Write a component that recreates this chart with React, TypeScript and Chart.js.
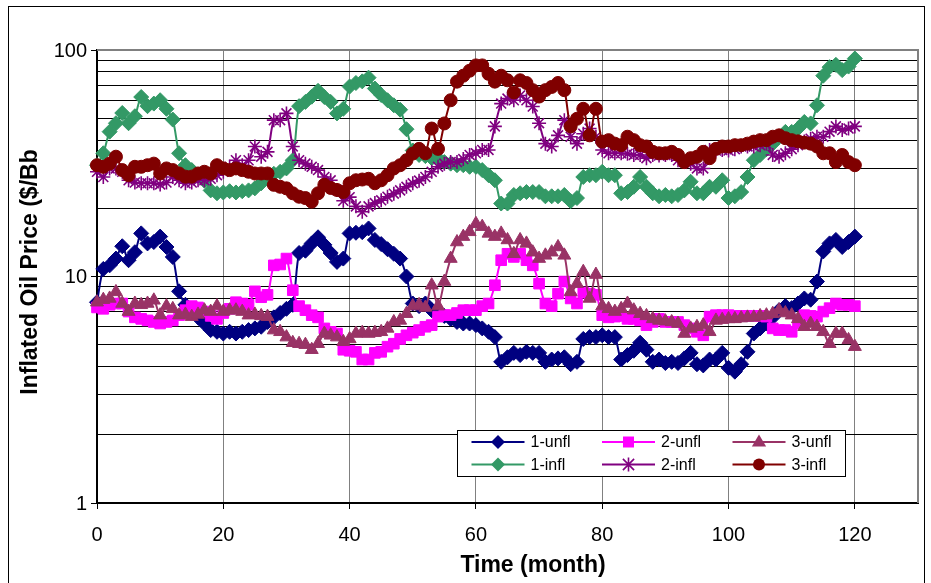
import React, { useEffect, useRef } from "react";
import { Chart, registerables } from "chart.js";
Chart.register(...registerables);

const FONT = '"Liberation Sans", Arial, Helvetica, sans-serif';

const seriesNames = ["1-unfl", "2-unfl", "3-unfl", "1-infl", "2-infl", "3-infl"];
const seriesColors = ["#000080", "#FF00FF", "#993366", "#339966", "#800080", "#800000"];
const seriesMarkers = ["rectRot", "rect", "triangle", "rectRot", "star", "circle"];
const xTickValues = [0, 20, 40, 60, 80, 100, 120];
const yLabelValues = [1, 10, 100];
const yGridValues = [1, 2, 3, 4, 5, 6, 7, 8, 9, 10, 20, 30, 40, 50, 60, 70, 80, 90, 100];
const xTitle = "Time (month)";
const yTitle = "Inflated Oil Price ($/Bb";

const unfl1 = [
  7.7, 10.8, 11.2, 12.0, 13.6, 11.8, 12.8, 15.5, 14.0, 14.2, 15.0, 13.5, 12.2, 8.6, 7.5, 7.0, 6.6, 6.2, 5.8, 5.7,
  5.6, 5.7, 5.6, 5.7, 5.8, 5.9, 6.0, 6.3, 6.6, 6.9, 7.2, 7.5, 12.7, 13.0, 14.0, 14.9, 13.8, 12.7, 11.6, 12.0,
  15.5, 15.6, 15.7, 16.3, 14.5, 13.9, 13.2, 12.6, 12.0, 10.0, 7.6, 7.4, 7.6, 7.1, 6.9, 6.7, 6.5, 6.3, 6.2, 6.2,
  6.1, 5.9, 5.7, 5.4, 4.2, 4.4, 4.6, 4.5, 4.65, 4.6, 4.6, 4.2, 4.3, 4.35, 4.4, 4.1, 4.2, 5.3, 5.4, 5.4,
  5.5, 5.4, 5.4, 4.3, 4.5, 4.7, 5.1, 4.75, 4.2, 4.3, 4.15, 4.2, 4.15, 4.35, 4.6, 4.1, 4.05, 4.3, 4.3, 4.6,
  3.95, 3.8, 4.1, 4.65, 5.6, 5.9, 6.2, 6.6, 7.1, 7.4, 7.25, 7.6, 8.0, 7.9, 9.5, 12.9, 14.0, 14.5, 13.5, 14.2,
  15.0,
];
const unfl2 = [
  7.3, 7.2, 7.5, 7.6, 7.6, 7.0, 6.6, 6.5, 6.4, 6.3, 6.2, 6.3, 6.4, 6.75, 7.1, 7.4, 7.3, 7.0, 6.7, 6.5,
  6.9, 7.2, 7.7, 7.6, 7.5, 8.6, 8.1, 8.3, 11.2, 11.3, 12.0, 8.7, 7.4, 7.1, 6.75, 6.6, 5.9, 5.7, 5.6, 4.75,
  4.7, 4.65, 4.3, 4.3, 4.6, 4.65, 4.9, 5.05, 5.3, 5.5, 5.65, 5.8, 6.0, 6.1, 6.65, 6.75, 6.75, 6.9, 7.1, 7.1,
  7.1, 7.4, 7.6, 9.15, 11.8, 12.6, 12.2, 12.6, 11.8, 11.2, 9.3, 7.6, 7.4, 8.4, 9.5, 8.0, 7.6, 8.5, 8.4, 8.3,
  6.75, 6.6, 6.65, 6.7, 6.5, 6.5, 6.4, 6.1, 6.3, 6.5, 6.3, 6.3, 6.3, 6.1, 5.9, 5.7, 5.5, 6.65, 6.75, 6.75,
  6.75, 6.7, 6.7, 6.7, 6.7, 6.7, 6.65, 5.9, 5.8, 5.8, 5.7, 6.2, 6.75, 6.7, 6.65, 7.0, 7.25, 7.6, 7.5, 7.5,
  7.4,
];
const unfl3 = [
  7.7, 7.9, 8.0, 8.55, 7.6, 7.0, 7.6, 7.5, 7.6, 7.85, 6.75, 7.4, 7.2, 6.75, 6.8, 6.65, 6.8, 7.1, 7.0, 7.4,
  7.0, 7.1, 7.1, 7.0, 6.75, 6.8, 6.7, 6.65, 5.8, 5.7, 5.4, 5.1, 5.05, 5.0, 4.75, 5.05, 5.6, 5.5, 5.4, 5.15,
  5.3, 5.6, 5.65, 5.6, 5.65, 5.7, 5.9, 6.3, 6.4, 6.85, 7.4, 7.5, 7.3, 9.15, 7.4, 9.5, 12.0, 14.2, 15.0, 15.75,
  17.1, 16.6, 15.5, 15.0, 15.5, 14.5, 12.6, 14.5, 14.0, 12.8, 12.0, 12.4, 12.8, 13.5, 12.4, 8.55, 9.3, 10.5, 8.0, 10.2,
  7.4, 7.2, 7.0, 7.2, 7.6, 7.1, 6.85, 6.7, 6.5, 6.4, 6.35, 6.3, 6.2, 5.6, 5.9, 6.0, 6.1, 5.7, 6.4, 6.45,
  6.5, 6.5, 6.55, 6.6, 6.6, 6.7, 6.75, 6.85, 7.1, 6.9, 6.75, 6.5, 6.0, 6.2, 6.0, 5.7, 5.05, 5.6, 5.6, 5.25,
  4.9,
];
const infl1 = [
  31, 35, 43.6, 47.5, 52.7, 47.5, 51, 62, 56.5, 58, 60, 55, 49.3, 35, 31, 29.5, 28, 26.5, 24, 23.3,
  23.5, 23.8, 23.5, 23.8, 24, 24.5, 25.8, 27, 28.4, 29, 30, 32.6, 56.5, 59, 62.2, 66, 62, 59, 52.5, 55,
  69, 71.5, 72.7, 75.5, 67.6, 63.3, 60, 57, 54.5, 44.7, 36, 34.4, 34, 33.3, 33.3, 32, 31.5, 31, 31, 30.5,
  30.5, 29.5, 28, 26.6, 21, 21, 22.9, 23.3, 23.6, 23.6, 23.6, 22.6, 22.6, 22.6, 22.9, 21.5, 22.2, 27.5, 28, 28,
  29, 28, 28, 23.3, 23.6, 24.9, 27.5, 24.9, 23.3, 22.6, 22.9, 22.6, 22.9, 24, 26.2, 23.3, 23.3, 24.9, 24.9, 26.6,
  22.2, 22.6, 23.6, 27.5, 32.6, 34.4, 36.5, 38.6, 41.4, 43.5, 43.5, 45, 48.1, 47.4, 57, 77, 84, 86, 81.5, 84.5,
  91.7,
];
const infl2 = [
  29, 27.5, 30, 30, 29, 26.6, 26, 25.8, 25.8, 25.8, 25.5, 26, 27.5, 26.6, 25.8, 26, 26.6, 26.6, 27, 28,
  29, 30.5, 32.6, 31, 32.6, 37.5, 33.8, 35.5, 49, 49, 52.5, 37.5, 32.6, 31.5, 30.5, 29.5, 27.5, 26.6, 24.1, 21.6,
  22.4, 20.4, 19.3, 20.4, 21.1, 21.7, 22.5, 23.2, 24, 24.9, 25.8, 26.5, 27.5, 29, 30.5, 31.5, 32, 32, 33, 34.4,
  35, 36.2, 36.2, 46, 58, 61, 60, 63, 60, 56.3, 47.5, 38.6, 37.5, 42, 49, 41.4, 38.6, 42.7, 45, 41.4,
  36.2, 35, 35, 35, 34.8, 34.4, 34.4, 33.3, 34.4, 34.2, 34.4, 34.4, 32.6, 32, 31.5, 30, 30, 36.2, 36, 36.2,
  36, 36.5, 37.5, 37.5, 37.5, 38, 38.6, 34.4, 33.8, 35, 36.5, 38, 39.4, 40.6, 41.4, 41.4, 43.6, 46, 44.3, 45,
  46,
];
const infl3 = [
  31, 30.5, 31.5, 33.8, 29.5, 28, 30.5, 30.5, 31, 31.5, 28.5, 30, 29.5, 28.5, 27.6, 27.6, 28.5, 29, 28.5, 31,
  30, 29.5, 30, 29.5, 29, 28.5, 28.5, 28.5, 25.4, 24.9, 24.5, 23.3, 22.5, 22.2, 21.4, 23.3, 25.4, 24.6, 24.1, 23.6,
  25.8, 26.6, 26.8, 27, 25.8, 26.6, 28, 30, 31, 32.6, 34.9, 36.6, 35, 45, 36.6, 47.4, 60, 72.5, 77, 81,
  85.5, 85.5, 78.5, 72.5, 77, 73.5, 65, 73.5, 71.5, 66.5, 62.3, 66.5, 68.7, 71.5, 66.5, 46, 49.7, 55, 42, 55,
  39.4, 40, 38.6, 38, 41.4, 40, 38, 37.5, 35.5, 35, 35, 35.5, 34.4, 32, 33.3, 33.8, 35.5, 33.3, 36.6, 37.5,
  37.5, 38, 38, 38.6, 39.4, 40, 40, 41.4, 42, 40.8, 40, 39.5, 39, 38.6, 37.5, 35, 35, 32, 34.4, 32,
  31,
];

const seriesValues = [unfl1, unfl2, unfl3, infl1, infl2, infl3];
const markerRadius = [7.5, 7.5, 7.5, 7.5, 7, 6.5];

function drawMarker(ctx: CanvasRenderingContext2D, style: string, x: number, y: number, color: string) {
  ctx.save();
  ctx.fillStyle = color;
  ctx.strokeStyle = color;
  ctx.beginPath();
  if (style === "rectRot") {
    const r = 7;
    ctx.moveTo(x, y - r);
    ctx.lineTo(x + r, y);
    ctx.lineTo(x, y + r);
    ctx.lineTo(x - r, y);
    ctx.closePath();
    ctx.fill();
  } else if (style === "rect") {
    const s = 5.5;
    ctx.rect(x - s, y - s, 2 * s, 2 * s);
    ctx.fill();
  } else if (style === "triangle") {
    const r = 7.5;
    ctx.moveTo(x, y - r);
    ctx.lineTo(x + r * 0.95, y + r * 0.6);
    ctx.lineTo(x - r * 0.95, y + r * 0.6);
    ctx.closePath();
    ctx.fill();
  } else if (style === "star") {
    const r = 7;
    ctx.lineWidth = 1.6;
    ctx.moveTo(x, y - r);
    ctx.lineTo(x, y + r);
    const d = r * 0.8;
    ctx.moveTo(x - d, y - d);
    ctx.lineTo(x + d, y + d);
    ctx.moveTo(x - d, y + d);
    ctx.lineTo(x + d, y - d);
    ctx.stroke();
  } else {
    ctx.arc(x, y, 6, 0, Math.PI * 2);
    ctx.fill();
  }
  ctx.restore();
}

const decorPlugin = {
  id: "decor",
  beforeDraw(chart: any) {
    const ctx = chart.ctx as CanvasRenderingContext2D;
    ctx.save();
    ctx.fillStyle = "#ffffff";
    ctx.fillRect(0, 0, chart.width, chart.height);
    ctx.restore();
  },
  beforeDatasetsDraw(chart: any) {
    const ctx = chart.ctx as CanvasRenderingContext2D;
    const { left, right, top, bottom } = chart.chartArea;
    ctx.save();
    ctx.strokeStyle = "#808080";
    ctx.lineWidth = 2;
    ctx.beginPath();
    ctx.moveTo(left, top);
    ctx.lineTo(right, top);
    ctx.lineTo(right, bottom);
    ctx.stroke();
    ctx.restore();
  },
  afterDraw(chart: any) {
    const ctx = chart.ctx as CanvasRenderingContext2D;
    const xs = chart.scales.x;
    const ys = chart.scales.y;
    ctx.save();
    // outer frame
    ctx.strokeStyle = "#000000";
    ctx.lineWidth = 1;
    ctx.strokeRect(8.5, 6.5, 916, 700);

    // tick labels (positions from the library's scales)
    ctx.fillStyle = "#000000";
    ctx.font = `20px ${FONT}`;
    ctx.textBaseline = "middle";
    ctx.textAlign = "center";
    xTickValues.forEach((v) => {
      ctx.fillText(String(v), xs.getPixelForValue(v), 535);
    });
    ctx.textAlign = "right";
    yLabelValues.forEach((v) => {
      ctx.fillText(String(v), 87, ys.getPixelForValue(v) + 1);
    });

    // axis titles
    ctx.font = `bold 23px ${FONT}`;
    ctx.textAlign = "center";
    ctx.textBaseline = "middle";
    ctx.fillText(xTitle, 533, 566);
    ctx.translate(31, 272);
    ctx.rotate(-Math.PI / 2);
    ctx.fillText(yTitle, 0, 0);
    ctx.restore();

    // legend
    ctx.save();
    const bx = 457.5, by = 430.5, bw = 388, bh = 46;
    ctx.fillStyle = "#ffffff";
    ctx.fillRect(bx, by, bw, bh);
    ctx.strokeStyle = "#000000";
    ctx.lineWidth = 1;
    ctx.strokeRect(bx, by, bw, bh);
    const colX = [471.5, 602, 732.5];
    const rowY = [442, 464.5];
    ctx.font = `16px ${FONT}`;
    ctx.textAlign = "left";
    ctx.textBaseline = "middle";
    seriesNames.forEach((name, i) => {
      const col = i % 3;
      const row = Math.floor(i / 3);
      const x0 = colX[col];
      const y0 = rowY[row];
      ctx.strokeStyle = seriesColors[i];
      ctx.lineWidth = 2;
      ctx.beginPath();
      ctx.moveTo(x0, y0);
      ctx.lineTo(x0 + 53, y0);
      ctx.stroke();
      drawMarker(ctx, seriesMarkers[i], x0 + 26.5, y0, seriesColors[i]);
      ctx.fillStyle = "#000000";
      ctx.fillText(name, x0 + 59, y0 + 1);
    });
    ctx.restore();
  },
};

export default function App() {
  const canvasRef = useRef<HTMLCanvasElement | null>(null);

  useEffect(() => {
    const canvas = canvasRef.current;
    if (!canvas) return;
    const datasets = seriesNames.map((name, i) => ({
      label: name,
      data: seriesValues[i].map((v, m) => ({ x: m, y: v })),
      borderColor: seriesColors[i],
      backgroundColor: seriesColors[i],
      pointBackgroundColor: seriesColors[i],
      pointBorderColor: seriesColors[i],
      pointStyle: seriesMarkers[i],
      pointRadius: markerRadius[i],
      pointBorderWidth: seriesMarkers[i] === "star" ? 1.6 : 1,
      borderWidth: 2,
      tension: 0.3,
      fill: false,
      clip: false as any,
      order: seriesNames.length - i,
    }));

    const chart = new Chart(canvas, {
      type: "line",
      data: { datasets },
      plugins: [decorPlugin],
      options: {
        animation: false,
        responsive: false,
        maintainAspectRatio: false,
        devicePixelRatio: 1,
        layout: { padding: { left: 0, top: 50, right: 13, bottom: 0 } },
        plugins: { legend: { display: false }, tooltip: { enabled: false } },
        events: [],
        scales: {
          x: {
            type: "linear",
            min: 0,
            max: 130,
            afterBuildTicks: (scale: any) => {
              scale.ticks = xTickValues.map((v) => ({ value: v }));
            },
            afterFit: (scale: any) => {
              scale.height = 80;
            },
            ticks: { display: false, autoSkip: false },
            grid: {
              color: "#808080",
              lineWidth: 1,
              tickLength: 6,
              tickColor: "#000000",
            },
            border: { color: "#000000", width: 2 },
          },
          y: {
            type: "logarithmic",
            min: 1,
            max: 100,
            afterBuildTicks: (scale: any) => {
              scale.ticks = yGridValues.map((v) => ({ value: v, major: yLabelValues.includes(v) }));
            },
            afterFit: (scale: any) => {
              scale.width = 97;
            },
            ticks: { display: false, autoSkip: false },
            grid: {
              color: "#000000",
              lineWidth: 1,
              tickLength: 6,
              tickColor: (ctx: any) =>
                ctx.tick && yLabelValues.includes(ctx.tick.value) ? "#000000" : "rgba(0,0,0,0)",
            },
            border: { color: "#000000", width: 2 },
          },
        },
      },
    } as any);

    return () => chart.destroy();
  }, []);

  return (
    <div style={{ position: "fixed", left: 0, top: 0, width: 931, height: 583, background: "#fff" }}>
      <canvas ref={canvasRef} width={931} height={583} style={{ display: "block", width: 931, height: 583 }} />
    </div>
  );
}
